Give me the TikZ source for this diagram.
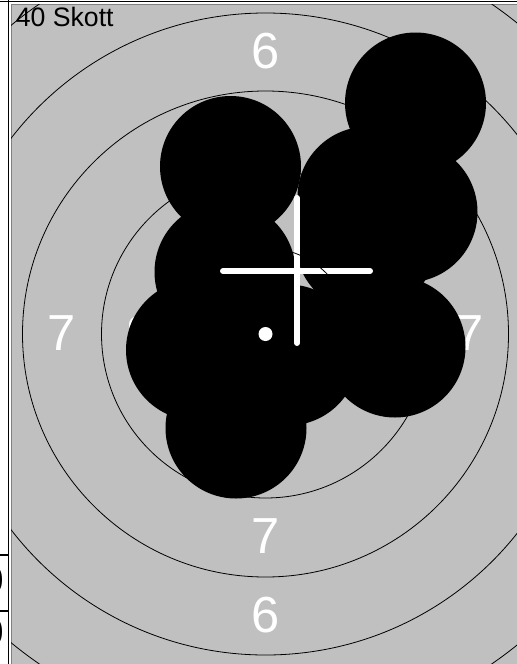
\documentclass[tikz,border=0pt]{standalone}
\usepackage{fontspec}
\setmainfont{Liberation Sans}
\definecolor{targetgray}{RGB}{192,192,192}
\begin{document}
\begin{tikzpicture}[
  x=0.75pt,y=-0.75pt,every node/.style={inner sep=0pt},
  ring/.style={draw=black,line width=.6pt},
  shot/.style={circle,fill=black,minimum size=105.75pt},
  score/.style={text=white,font=\fontsize{38}{40}\selectfont},
  rowtext/.style={anchor=base east,font=\fontsize{29}{30}\selectfont},
  aimbar/.style={draw=white,line width=4.5pt,line cap=round}]
  \useasboundingbox (0,0) rectangle (517,664);
  % sheet edge and the cut-off table on the left
  \draw[line width=1.1pt] (0,1.5)--(517,1.5) (8.5,0)--(8.5,664);
  \draw[line width=.9pt] (0,555)--(8.5,555) (0,611)--(8.5,611);
  \node[rowtext] (rowa) at (4.5,593) {0};
  \node[rowtext] (rowb) at (4.5,645) {0};
  \fill[targetgray,draw=black!50,line width=.4pt] (11,4) rectangle (517,664);
  \node[anchor=base west,font=\fontsize{20}{22}\selectfont] (title) at (15.5,26) {40 Skott};

  % ring values
  \foreach \n/\x/\y in {6/265.5/51.5,6/265.5/615,7/61.5/333.5,7/469.5/333.5,
      7/265.5/536.5,8/140.5/334}
    \node[score] (val\n) at (\x,\y) {\n};

  % hits
  \foreach \s/\x/\y in {a/415.5/103,b/230.5/166.5,c/407/212,d/368/197,
      e/366/242,f/225/272,g/196.5/350,h/288/355,k/395/347,m/236/428}
    \node[shot] (hit\s) at (\x,\y) {};

  % mean point of impact and the aim point
  \coordinate (aimW) at (223,271);
  \coordinate (aimE) at (370,271);
  \coordinate (aimN) at (297,198);
  \coordinate (aimS) at (297,343);
  \draw[aimbar] (aimW)--(aimE) (aimN)--(aimS);
  \node[circle,fill=white,minimum size=10.5pt] (mid) at (265.5,334) {};

  % ring lines lie on top, cut to the sheet
  \begin{scope}
    \clip (11,4) rectangle (517,664);
    \foreach \r in {86,164,243,321,400}
      \draw[ring] (mid) circle[radius=\r*0.75pt];
  \end{scope}
\end{tikzpicture}
\end{document}
